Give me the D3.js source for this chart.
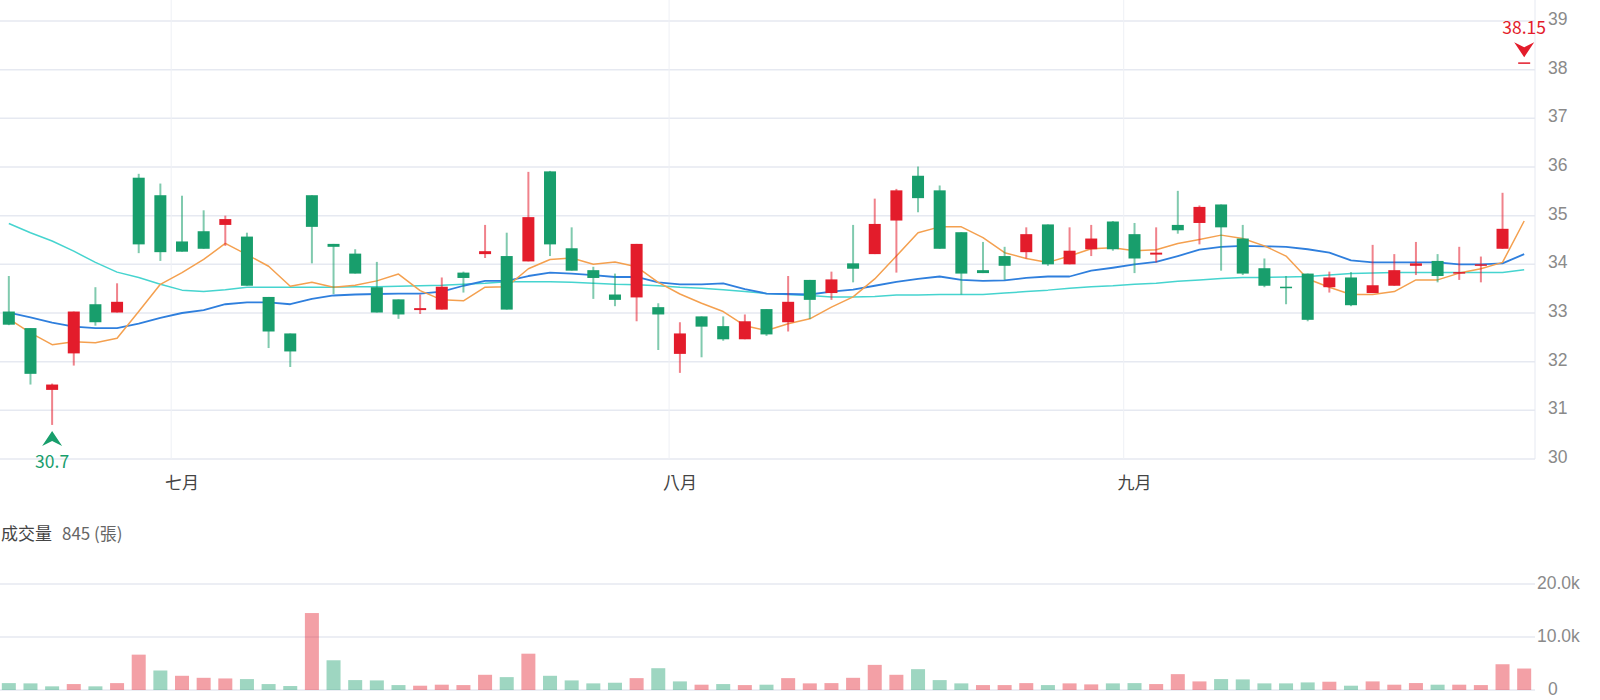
<!DOCTYPE html>
<html>
<head>
<meta charset="utf-8">
<script src="https://cdn.jsdelivr.net/npm/d3@7"></script>
<style>
  html, body { margin: 0; padding: 0; background: #fff; overflow: hidden; }
  svg { display: block; font-family: "Noto Sans CJK TC", "Noto Sans", sans-serif; }
</style>
</head>
<body>
<svg id="chart" width="1600" height="700"></svg>
<script>

/****** Data ******/

// open / high / low / close per trading day (index 0 = late June)
var opens = [33.03, 32.69, 31.42, 32.17, 33.18, 33.01, 35.78, 35.42, 34.47, 34.68,
  34.81, 34.57, 33.33, 32.58, 35.42, 34.42, 34.22, 33.53, 33.28, 33.06,
  33.07, 33.83, 34.21, 34.17, 34.06, 35.91, 34.33, 33.88, 33.38, 33.32,
  33.12, 32.16, 32.93, 32.73, 32.46, 33.08, 32.81, 33.68, 33.41, 34.02,
  34.21, 34.90, 35.82, 35.52, 34.66, 33.88, 34.17, 34.25, 34.82, 34.00,
  34.31, 34.88, 34.62, 34.20, 34.81, 34.85, 35.23, 34.53, 33.92, 33.54,
  33.81, 33.53, 33.73, 33.41, 33.56, 33.97, 34.07, 33.81, 33.97, 34.32,
  38.15];
var highs = [33.76, 32.69, 31.55, 33.03, 33.53, 33.61, 35.86, 35.66, 35.41, 35.11,
  35.00, 34.65, 33.33, 32.58, 35.42, 34.42, 34.31, 34.05, 33.28, 33.38,
  33.73, 33.85, 34.81, 34.65, 35.90, 35.92, 34.76, 33.95, 33.81, 34.42,
  33.20, 32.81, 32.93, 32.93, 32.97, 33.08, 33.76, 33.68, 33.85, 34.81,
  35.35, 35.55, 36.01, 35.62, 34.66, 34.46, 34.36, 34.76, 34.82, 34.76,
  34.81, 34.89, 34.85, 34.76, 35.51, 35.21, 35.23, 34.81, 34.12, 33.76,
  33.81, 33.85, 33.84, 34.40, 34.21, 34.46, 34.21, 34.36, 34.16, 35.47,
  38.15];
var lows = [32.75, 31.53, 30.70, 31.92, 32.74, 33.01, 34.23, 34.07, 34.26, 34.32,
  34.38, 33.56, 32.28, 31.89, 34.02, 33.39, 33.81, 33.01, 32.88, 32.98,
  33.07, 33.42, 34.13, 33.07, 34.06, 34.17, 33.87, 33.29, 33.14, 32.83,
  32.24, 31.77, 32.09, 32.43, 32.46, 32.53, 32.62, 32.88, 33.27, 33.63,
  34.21, 33.83, 35.07, 34.32, 33.38, 33.82, 33.68, 34.12, 33.97, 34.00,
  34.17, 34.28, 33.82, 34.04, 34.63, 34.41, 33.87, 33.78, 33.53, 33.18,
  32.83, 33.42, 33.14, 33.41, 33.56, 33.78, 33.63, 33.68, 33.63, 34.32,
  38.15];
var closes = [32.76, 31.75, 31.53, 33.03, 32.81, 33.23, 34.41, 34.25, 34.26, 34.32,
  34.93, 33.56, 32.62, 32.21, 34.77, 34.36, 33.81, 33.01, 32.97, 33.10,
  33.54, 33.72, 34.27, 33.07, 34.97, 34.41, 33.87, 33.72, 33.27, 34.42,
  32.97, 32.58, 32.72, 32.46, 32.83, 32.56, 33.23, 33.27, 33.69, 33.91,
  34.83, 35.52, 35.36, 34.32, 33.81, 33.82, 33.97, 34.62, 34.00, 34.28,
  34.53, 34.31, 34.12, 34.24, 34.70, 35.18, 34.76, 33.81, 33.56, 33.52,
  32.86, 33.73, 33.16, 33.57, 33.88, 34.02, 33.76, 33.84, 34.00, 34.73,
  38.15];

// 成交量 (張) and whether the day closed up (u) or down (d)
var volumes = [1300, 1250, 690, 1120, 690, 1300, 6670, 3680, 2680, 2300,
  2180, 2060, 1120, 750, 14520, 5610, 1870, 1810, 930, 810,
  1000, 930, 2870, 2430, 6850, 2680, 1810, 1250, 1370, 2240,
  4110, 1620, 1000, 1120, 930, 1000, 2240, 1250, 1300, 2300,
  4740, 2870, 3930, 1870, 1250, 930, 930, 1300, 930, 1250,
  1060, 1250, 1300, 1120, 2990, 1620, 2060, 2000, 1250, 1250,
  1430, 1560, 810, 1620, 1000, 1310, 1000, 1000, 930, 4860,
  4050];
var volumeDir = ['d','d','d','u','d','u','u','d','u','u',
  'u','d','d','d','u','d','d','d','d','u',
  'u','u','u','d','u','d','d','d','d','u',
  'd','d','u','d','u','d','u','u','u','u',
  'u','u','d','d','d','u','u','u','d','u',
  'u','d','d','u','u','u','d','d','d','d',
  'd','u','d','u','u','u','d','u','u','u',
  'u'];

// moving averages
var ma5 = [32.88, 32.59, 32.35, 32.41, 32.39, 32.48, 33.03, 33.59, 33.83, 34.10,
  34.43, 34.20, 33.96, 33.55, 33.63, 33.53, 33.57, 33.66, 33.80, 33.46,
  33.27, 33.25, 33.53, 33.54, 33.91, 34.10, 34.13, 34.00, 34.05, 33.95,
  33.63, 33.39, 33.20, 33.03, 32.74, 32.64, 32.78, 32.88, 33.12, 33.33,
  33.70, 34.17, 34.65, 34.77, 34.77, 34.55, 34.24, 34.12, 34.04, 34.17,
  34.32, 34.34, 34.28, 34.30, 34.43, 34.51, 34.60, 34.53, 34.38, 34.17,
  33.70, 33.53, 33.38, 33.38, 33.44, 33.68, 33.68, 33.82, 33.91, 34.04,
  34.89];
var ma20 = [33.01, 32.91, 32.80, 32.72, 32.69, 32.69, 32.78, 32.90, 33.00, 33.06,
  33.18, 33.22, 33.22, 33.18, 33.29, 33.36, 33.38, 33.39, 33.40, 33.40,
  33.44, 33.56, 33.66, 33.66, 33.76, 33.83, 33.81, 33.78, 33.74, 33.74,
  33.63, 33.59, 33.59, 33.61, 33.49, 33.40, 33.39, 33.38, 33.44, 33.48,
  33.56, 33.64, 33.70, 33.75, 33.68, 33.66, 33.67, 33.72, 33.75, 33.75,
  33.87, 33.93, 34.00, 34.05, 34.17, 34.30, 34.36, 34.38, 34.37, 34.36,
  34.31, 34.24, 34.08, 34.04, 34.04, 34.04, 34.04, 34.00, 34.00, 34.02,
  34.21];
var ma60 = [34.84, 34.65, 34.48, 34.27, 34.04, 33.84, 33.73, 33.59, 33.47, 33.44,
  33.48, 33.53, 33.53, 33.53, 33.53, 33.53, 33.54, 33.54, 33.55, 33.56,
  33.57, 33.59, 33.61, 33.64, 33.64, 33.64, 33.63, 33.61, 33.59, 33.58,
  33.56, 33.53, 33.51, 33.48, 33.44, 33.40, 33.38, 33.36, 33.33, 33.33,
  33.34, 33.37, 33.37, 33.38, 33.38, 33.38, 33.41, 33.44, 33.47, 33.51,
  33.54, 33.56, 33.59, 33.61, 33.65, 33.68, 33.71, 33.73, 33.73, 33.74,
  33.75, 33.78, 33.81, 33.82, 33.83, 33.83, 33.83, 33.83, 33.83, 33.83,
  33.89];

// month ticks: first trading day index of each month
var monthIndex = [8, 31, 52];
var monthLabels = ['七月', '八月', '九月'];

var priceTicks = [30, 31, 32, 33, 34, 35, 36, 37, 38, 39];
var volumeTicks = [0, 10000, 20000];
var volumeTickLabels = ['0', '10.0k', '20.0k'];
var volumeTitle = '成交量';
var volumeNote = '845 (張)';

/****** Chart ******/

function klineChart(svg) {

  var _svg = svg,
      _n = closes.length,
      _plotLeft = -2, _plotRight = 1535,
      _priceTop = 21, _priceBottom = 459,
      _volTop = 584, _volBottom = 690;

  var _colors = {
    up: '#e31c2b', down: '#189e6c',
    grid: '#e6e9f1', axisText: '#8a8a8a',
    ma5: '#f4a04f', ma20: '#2f7fdd', ma60: '#46d4cf'
  };

  var _x = d3.scaleBand().domain(d3.range(_n)).range([_plotLeft, _plotRight]),
      _y = d3.scaleLinear().domain([30, 39]).range([_priceBottom, _priceTop]),
      _yVol = d3.scaleLinear().domain([0, 20000]).range([_volBottom, _volTop]);

  function cx(i) { return _x(i) + _x.bandwidth() / 2; }

  function renderGrid() {
    var g = _svg.append('g').attr('class', 'grid');

    g.selectAll('line.h').data(priceTicks).enter().append('line')
        .attr('class', 'h')
        .attr('x1', 0).attr('x2', _plotRight)
        .attr('y1', function (d) { return _y(d); })
        .attr('y2', function (d) { return _y(d); })
        .attr('stroke', _colors.grid).attr('stroke-width', 1.5);

    g.selectAll('line.v').data(monthIndex).enter().append('line')
        .attr('class', 'v')
        .attr('x1', function (d) { return _x(d); })
        .attr('x2', function (d) { return _x(d); })
        .attr('y1', 0).attr('y2', _priceBottom)
        .attr('stroke', '#eef0f5').attr('stroke-width', 1);

    g.append('line')
        .attr('x1', _plotRight).attr('x2', _plotRight)
        .attr('y1', 0).attr('y2', _priceBottom)
        .attr('stroke', _colors.grid).attr('stroke-width', 1);

    g.selectAll('line.vol').data(volumeTicks).enter().append('line')
        .attr('class', 'vol')
        .attr('x1', 0).attr('x2', _plotRight)
        .attr('y1', function (d) { return _yVol(d); })
        .attr('y2', function (d) { return _yVol(d); })
        .attr('stroke', _colors.grid).attr('stroke-width', 1.5);
  }

  function renderAxes() {
    var yAxis = d3.axisRight(_y).tickValues(priceTicks).tickSize(0).tickPadding(13)
        .tickFormat(d3.format('d'));
    var ga = _svg.append('g')
        .attr('transform', 'translate(' + _plotRight + ',-2)')
        .call(yAxis);
    ga.select('.domain').remove();
    ga.selectAll('text').attr('fill', _colors.axisText)
        .style('font-size', '17.5px').style('font-family', 'inherit');

    var vAxis = d3.axisRight(_yVol).tickValues(volumeTicks).tickSize(0).tickPadding(13)
        .tickFormat(function (d, i) { return volumeTickLabels[i]; });
    var gv = _svg.append('g')
        .attr('transform', 'translate(' + _plotRight + ',-1)')
        .call(vAxis);
    gv.select('.domain').remove();
    gv.selectAll('text').attr('fill', _colors.axisText)
        .style('font-size', '17.5px').style('font-family', 'inherit')
        .each(function () {
          // long labels start right at the axis line
          if (this.textContent.length > 2) d3.select(this).attr('x', 2);
        });

    _svg.append('g').selectAll('text').data(monthIndex).enter().append('text')
        .attr('x', function (d) { return cx(d); })
        .attr('y', 489)
        .attr('text-anchor', 'middle')
        .attr('fill', '#444')
        .style('font-size', '17px')
        .text(function (d, i) { return monthLabels[i]; });

    var title = _svg.append('text').attr('x', 1).attr('y', 540).style('font-size', '17px');
    title.append('tspan').attr('fill', '#444').text(volumeTitle);
    title.append('tspan').attr('fill', '#666').attr('dx', 10).text(volumeNote);
  }

  function renderLines() {
    var series = [[ma60, _colors.ma60, 1.5], [ma20, _colors.ma20, 1.8], [ma5, _colors.ma5, 1.5]];
    var line = d3.line().x(function (d, i) { return cx(i); }).y(function (d) { return _y(d); });
    series.forEach(function (s) {
      _svg.append('path').datum(s[0])
          .attr('fill', 'none')
          .attr('stroke', s[1])
          .attr('stroke-width', s[2])
          .attr('stroke-linejoin', 'round')
          .attr('d', line);
    });
  }

  function renderCandles() {
    var bodyW = 12,
        idx = d3.range(_n),
        g = _svg.append('g').attr('class', 'candles');

    function col(i) { return closes[i] >= opens[i] ? _colors.up : _colors.down; }

    g.selectAll('line.wick').data(idx).enter().append('line')
        .attr('class', 'wick')
        .attr('x1', cx).attr('x2', cx)
        .attr('y1', function (i) { return _y(highs[i]); })
        .attr('y2', function (i) { return _y(lows[i]); })
        .attr('stroke', col).attr('stroke-opacity', 0.55).attr('stroke-width', 2);

    g.selectAll('rect.body').data(idx).enter().append('rect')
        .attr('class', 'body')
        .attr('x', function (i) { return cx(i) - bodyW / 2; })
        .attr('width', bodyW)
        .attr('y', function (i) { return _y(Math.max(opens[i], closes[i])); })
        .attr('height', function (i) {
          return Math.max(1.5, Math.abs(_y(opens[i]) - _y(closes[i])));
        })
        .attr('fill', col);
  }

  function renderVolume() {
    var barW = 14;
    _svg.append('g').selectAll('rect').data(volumes).enter().append('rect')
        .attr('x', function (d, i) { return cx(i) - barW / 2; })
        .attr('width', barW)
        .attr('y', function (d) { return _yVol(d); })
        .attr('height', function (d) { return _volBottom - _yVol(d); })
        .attr('fill', function (d, i) { return volumeDir[i] === 'u' ? _colors.up : _colors.down; })
        .attr('fill-opacity', 0.42);
  }

  function renderMarkers() {
    var lo = d3.minIndex(lows), hi = d3.maxIndex(highs);

    // lowest low: up arrow + label below
    var lx = cx(lo), ly = _y(lows[lo]) + 6;
    _svg.append('path')
        .attr('d', 'M' + lx + ',' + ly + 'L' + (lx + 10) + ',' + (ly + 15) +
                   'L' + lx + ',' + (ly + 10) + 'L' + (lx - 10) + ',' + (ly + 15) + 'Z')
        .attr('fill', _colors.down);
    _svg.append('text').attr('x', lx).attr('y', ly + 37)
        .attr('text-anchor', 'middle').attr('fill', _colors.down)
        .style('font-size', '17.5px').text(d3.format('')(lows[lo]));

    // highest high: down arrow + label above
    var hx = cx(hi), hy = _y(highs[hi]) - 5;
    _svg.append('path')
        .attr('d', 'M' + hx + ',' + hy + 'L' + (hx + 10) + ',' + (hy - 15) +
                   'L' + hx + ',' + (hy - 10) + 'L' + (hx - 10) + ',' + (hy - 15) + 'Z')
        .attr('fill', _colors.up);
    _svg.append('text').attr('x', hx).attr('y', hy - 23)
        .attr('text-anchor', 'middle').attr('fill', _colors.up)
        .style('font-size', '17.5px').text(d3.format('.2f')(highs[hi]));
  }

  return {
    render: function () {
      renderGrid();
      renderAxes();
      renderVolume();
      renderLines();
      renderCandles();
      renderMarkers();
    }
  };
}

function init() {
  var chart = klineChart(d3.select('#chart'));
  chart.render();
}

init();
</script>
</body>
</html>
